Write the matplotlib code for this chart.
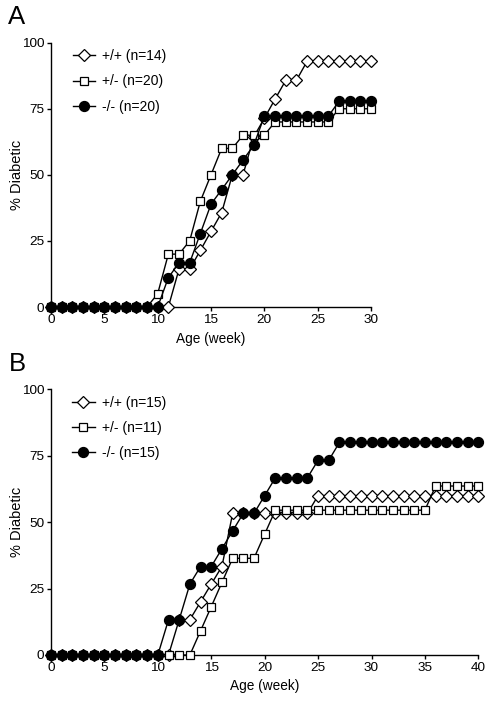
import matplotlib
matplotlib.use("Agg")
import matplotlib.pyplot as plt

plt.rcParams['font.family'] = ['Liberation Sans', 'DejaVu Sans']

# Panel A data (weeks 0..30)
weeks_A = list(range(0, 31))
wt_A = [0, 0, 0, 0, 0, 0, 0, 0, 0, 0, 0, 0,
        14.3, 14.3, 21.4, 28.6, 35.7, 50.0, 50.0, 64.3, 71.4, 78.6, 85.7, 85.7,
        92.9, 92.9, 92.9, 92.9, 92.9, 92.9, 92.9]
het_A = [0, 0, 0, 0, 0, 0, 0, 0, 0, 0,
         5, 20, 20, 25, 40, 50, 60, 60, 65, 65, 65,
         70, 70, 70, 70, 70, 70,
         75, 75, 75, 75]
ko_A = [0, 0, 0, 0, 0, 0, 0, 0, 0, 0, 0,
        11.1, 16.7, 16.7, 27.8, 38.9, 44.4, 50.0, 55.6, 61.1,
        72.2, 72.2, 72.2, 72.2, 72.2, 72.2, 72.2,
        77.8, 77.8, 77.8, 77.8]
labels_A = ["+/+ (n=14)", "+/- (n=20)", "-/- (n=20)"]

# Panel B data (weeks 0..40)
weeks_B = list(range(0, 41))
wt_B = [0, 0, 0, 0, 0, 0, 0, 0, 0, 0, 0, 0,
        13.3, 13.3, 20.0, 26.7, 33.3,
        53.3, 53.3, 53.3, 53.3, 53.3, 53.3, 53.3, 53.3,
        60, 60, 60, 60, 60, 60, 60, 60, 60, 60, 60, 60, 60, 60, 60, 60]
het_B = [0, 0, 0, 0, 0, 0, 0, 0, 0, 0, 0, 0, 0, 0,
         9.1, 18.2, 27.3, 36.4, 36.4, 36.4, 45.5,
         54.5, 54.5, 54.5, 54.5, 54.5, 54.5, 54.5, 54.5, 54.5, 54.5, 54.5, 54.5, 54.5, 54.5, 54.5,
         63.6, 63.6, 63.6, 63.6, 63.6]
ko_B = [0, 0, 0, 0, 0, 0, 0, 0, 0, 0, 0,
        13.3, 13.3, 26.7, 33.3, 33.3, 40.0, 46.7, 53.3, 53.3, 60.0,
        66.7, 66.7, 66.7, 66.7,
        73.3, 73.3,
        80, 80, 80, 80, 80, 80, 80, 80, 80, 80, 80, 80, 80, 80]
labels_B = ["+/+ (n=15)", "+/- (n=11)", "-/- (n=15)"]

yticks = [0, 25, 50, 75, 100]
xticks_A = [0, 5, 10, 15, 20, 25, 30]
xticks_B = [0, 5, 10, 15, 20, 25, 30, 35, 40]

fig = plt.figure(figsize=(4.91, 7.03), dpi=100)
axA = fig.add_axes([0.1039, 0.5633, 0.6517, 0.376])
axB = fig.add_axes([0.1039, 0.0683, 0.8703, 0.3779])


def draw(ax, weeks, wt, het, ko, labels, xticks, xmax, leg_anchor, ylab_x):
    lw = 1.0
    ax.plot(weeks, wt, color='black', lw=lw, marker='D', ms=5.8, mfc='white',
            mec='black', mew=0.9, clip_on=False, zorder=3, label=labels[0])
    ax.plot(weeks, het, color='black', lw=lw, marker='s', ms=6.2, mfc='white',
            mec='black', mew=0.9, clip_on=False, zorder=4, label=labels[1])
    ax.plot(weeks, ko, color='black', lw=lw, marker='o', ms=7.2, mfc='black',
            mec='black', mew=0.9, clip_on=False, zorder=5, label=labels[2])
    ax.set_xlim(0, xmax)
    ax.set_ylim(0, 100)
    ax.set_xticks(xticks)
    ax.set_yticks(yticks)
    for s in ['top', 'right']:
        ax.spines[s].set_visible(False)
    for s in ['left', 'bottom']:
        ax.spines[s].set_linewidth(1.0)
    ax.tick_params(direction='out', length=3, width=1.0, labelsize=9.7, pad=2)
    ax.set_xlabel("Age (week)", fontsize=9.8, labelpad=4)
    ax.set_ylabel("% Diabetic", fontsize=10.5)
    ax.yaxis.set_label_coords(ylab_x, 0.5)
    ax.legend(loc='upper left', bbox_to_anchor=leg_anchor, frameon=False,
              fontsize=10, handlelength=1.6, handletextpad=0.5,
              labelspacing=0.8, borderaxespad=0, borderpad=0)


draw(axA, weeks_A, wt_A, het_A, ko_A, labels_A, xticks_A, 30, (0.068, 0.975), -0.084)
draw(axB, weeks_B, wt_B, het_B, ko_B, labels_B, xticks_B, 40, (0.05, 0.975), -0.063)

fig.text(0.016, 0.966, "A", fontsize=18.5)
fig.text(0.018, 0.472, "B", fontsize=18.5)

fig.savefig("out.png", dpi=100)
